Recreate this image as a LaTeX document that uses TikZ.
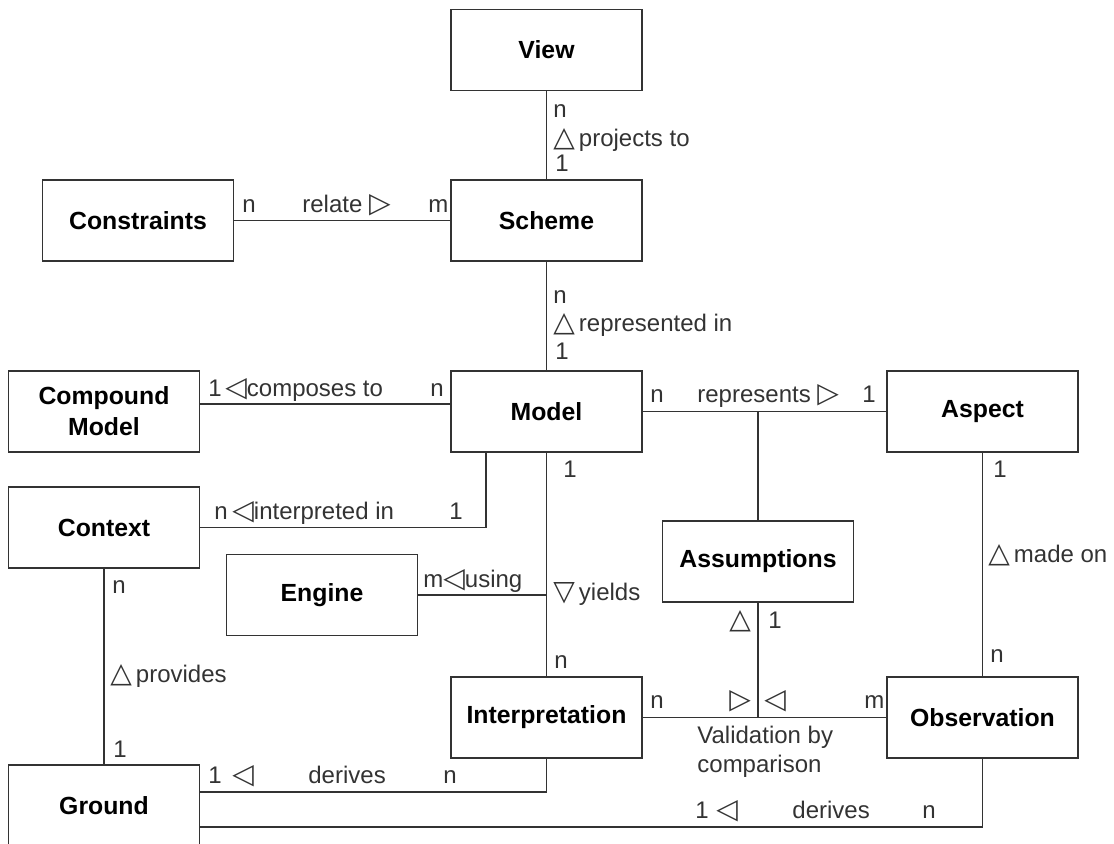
\documentclass[tikz,border=0pt]{standalone}
\usepackage{fontspec}
\setmainfont{Liberation Sans}
\newfontfamily\symfont{DejaVu Sans}
\usepackage{tikz}
\definecolor{ink}{HTML}{333333}

\tikzset{
  cls/.style={draw=ink, line width=0.9pt, fill=white, inner sep=0pt,
    minimum width=95.5pt, minimum height=40.5pt, align=center,
    font=\fontsize{12.4}{15.5}\selectfont\bfseries},
  lbl/.style={anchor=base west, inner sep=0pt, text=ink,
    font=\fontsize{12}{14.5}\selectfont},
  link/.style={draw=ink, line width=0.9pt},
}
\newcommand{\tri}[1]{{\symfont\fontsize{14}{14}\selectfont#1}}

\begin{document}
\begin{tikzpicture}[x=0.5pt, y=-0.5pt]
  \useasboundingbox (0,0) rectangle (1114,844);

  % classes
  \node[cls] (view)   at (546.5,50)    {View};
  \node[cls] (scheme) at (546.5,220.5) {Scheme};
  \node[cls] (constr) at (138,220.5)   {Constraints};
  \node[cls] (cmodel) at (104,411.5)   {Compound\\Model};
  \node[cls] (model)  at (546.5,411.5) {Model};
  \node[cls] (aspect) at (982.5,411.5) {Aspect};
  \node[cls] (ctx)    at (104,527.5)   {Context};
  \node[cls] (engine) at (322,595)     {Engine};
  \node[cls] (assum)  at (758,561.5)   {Assumptions};
  \node[cls] (interp) at (546.5,717.5) {Interpretation};
  \node[cls] (obs)    at (982.5,717.5) {Observation};
  \node[cls] (ground) at (104,805.5)   {Ground};

  % associations
  \draw[link] (view) -- (scheme);
  \draw[link] (constr) -- (scheme);
  \draw[link] (scheme) -- (model);
  \draw[link] ([yshift=3.75pt]cmodel.east) -- ([yshift=3.75pt]model.west);
  \draw[link] (model) -- (aspect);
  \draw[link] (assum.north) -- (assum.north |- model.east);
  \draw[link] ([xshift=-30.25pt]model.south) |- (ctx.east);
  \draw[link] (model) -- (interp);
  \draw[link] (engine.east) -- (model.south |- engine.east);
  \draw[link] (ctx) -- (ground);
  \draw[link] (interp) -- (obs);
  \draw[link] (assum.south) -- (assum.south |- interp.east);
  \draw[link] (aspect) -- (obs);
  \draw[link] (interp.south) |- ([yshift=6.75pt]ground.east);
  \draw[link] (obs.south) |- ([yshift=-10.75pt]ground.east);

  % multiplicities and roles
  \node[lbl] (vsN)  at (553,118) {n};
  \node[lbl] (vsR)  at (553,147) {\tri{△}\,projects to};
  \node[lbl] (vs1)  at (555,172) {1};
  \node[lbl] (csN)  at (242,213) {n};
  \node[lbl] (csR)  at (302,213) {relate \tri{▷}};
  \node[lbl] (csM)  at (428,213) {m};
  \node[lbl] (smN)  at (553,304) {n};
  \node[lbl] (smR)  at (553,332) {\tri{△}\,represented in};
  \node[lbl] (sm1)  at (555,360) {1};
  \node[lbl] (cm1)  at (208,397) {1};
  \node[lbl] (cmR)  at (225,397) {\tri{◁}composes to};
  \node[lbl] (cmN)  at (430,397) {n};
  \node[lbl] (maN)  at (650,403) {n};
  \node[lbl] (maR)  at (697,403) {represents \tri{▷}};
  \node[lbl] (ma1)  at (862,403) {1};
  \node[lbl] (mcN)  at (214,520) {n};
  \node[lbl] (mcR)  at (232,520) {\tri{◁}interpreted in};
  \node[lbl] (mc1)  at (449,520) {1};
  \node[lbl] (ao1)  at (993,478) {1};
  \node[lbl] (aoR)  at (988,562) {\tri{△}\,made on};
  \node[lbl] (aoN)  at (990,662) {n};
  \node[lbl] (mi1)  at (563,478) {1};
  \node[lbl] (miR)  at (553,600) {\tri{▽}\,yields};
  \node[lbl] (miN)  at (554,668) {n};
  \node[lbl] (emR)  at (423,587) {m\tri{◁}using};
  \node[lbl] (cgN)  at (112,593) {n};
  \node[lbl] (cgR)  at (110,682) {\tri{△}\,provides};
  \node[lbl] (cg1)  at (113,757) {1};
  \node[lbl] (gi1)  at (208,783) {1};
  \node[lbl] (giA)  at (232,783) {\tri{◁}};
  \node[lbl] (giR)  at (308,783) {derives};
  \node[lbl] (giN)  at (443,783) {n};
  \node[lbl] (ioN)  at (650,708) {n};
  \node[lbl] (ioA)  at (729,708) {\tri{▷}};
  \node[lbl] (ioB)  at (764,708) {\tri{◁}};
  \node[lbl] (ioM)  at (864,708) {m};
  \node[lbl, align=left] (ioR) at (697,772) {Validation by\\comparison};
  \node[lbl] (asA)  at (729,628) {\tri{△}};
  \node[lbl] (as1)  at (768,628) {1};
  \node[lbl] (go1)  at (695,818) {1};
  \node[lbl] (goA)  at (716,818) {\tri{◁}};
  \node[lbl] (goR)  at (792,818) {derives};
  \node[lbl] (goN)  at (922,818) {n};
\end{tikzpicture}
\end{document}
